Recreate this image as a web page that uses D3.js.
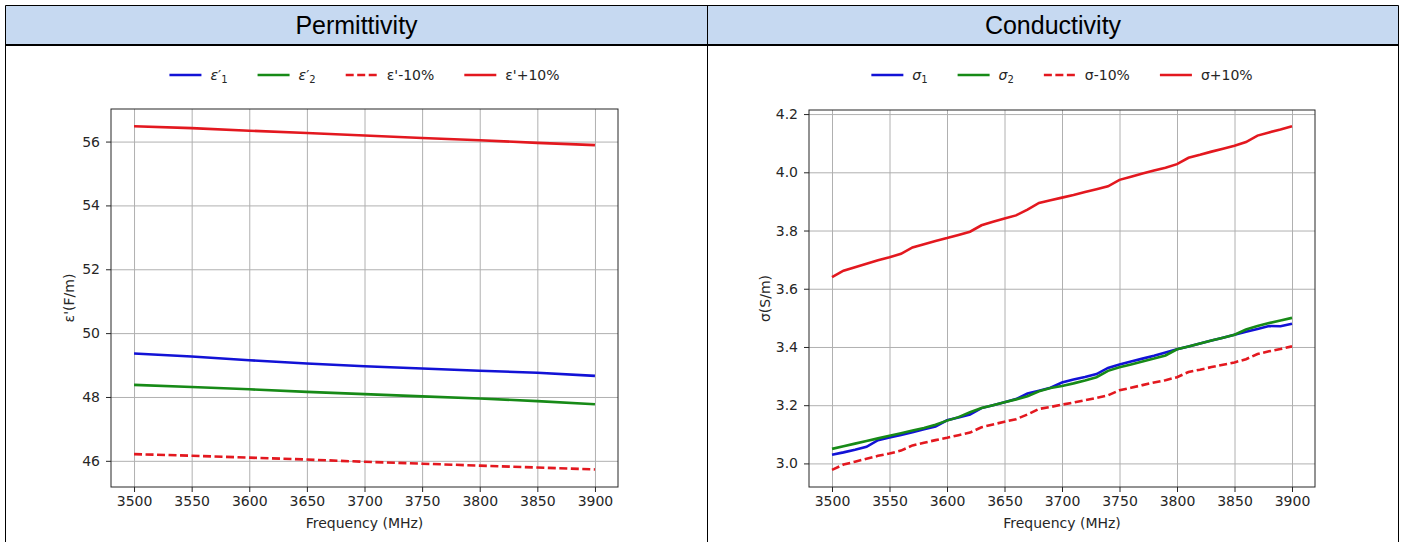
<!DOCTYPE html>
<html>
<head>
<meta charset="utf-8">
<script src="https://cdn.jsdelivr.net/npm/d3@7"></script>
<style>
  body { margin: 0; background: #fff; }
  .axis text { font-family: "DejaVu Sans", sans-serif; font-size: 14px; fill: #262626; }
  .axis path, .axis line { stroke: #262626; }
  .grid line { stroke: #b0b0b0; stroke-width: 1; }
  .grid path { display: none; }
  .label, .legend text { font-family: "DejaVu Sans", sans-serif; font-size: 14px; fill: #262626; }
  .header { font-family: "Liberation Sans", Arial, sans-serif; font-size: 25px; fill: #000; }
</style>
</head>
<body>
<div id="chart"></div>
<script>
// Permittivity, 50 MHz steps
const permFreq = [3500, 3550, 3600, 3650, 3700, 3750, 3800, 3850, 3900];
const eps1     = [49.36, 49.27, 49.15, 49.05, 48.96, 48.89, 48.82, 48.76, 48.66];
const eps2     = [48.38, 48.31, 48.24, 48.16, 48.09, 48.02, 47.95, 47.87, 47.77];
const epsMinus = [46.21, 46.16, 46.10, 46.04, 45.97, 45.91, 45.85, 45.79, 45.73];
const epsPlus  = [56.48, 56.42, 56.34, 56.27, 56.19, 56.11, 56.04, 55.96, 55.89];

// Conductivity, 10 MHz steps
const condFreq = [3500, 3510, 3520, 3530, 3540, 3550, 3560, 3570, 3580, 3590,
                  3600, 3610, 3620, 3630, 3640, 3650, 3660, 3670, 3680, 3690,
                  3700, 3710, 3720, 3730, 3740, 3750, 3760, 3770, 3780, 3790,
                  3800, 3810, 3820, 3830, 3840, 3850, 3860, 3870, 3880, 3890, 3900];
const sigma1 = [3.030, 3.038, 3.047, 3.057, 3.080, 3.089, 3.098, 3.107, 3.117, 3.127,
                3.148, 3.158, 3.168, 3.190, 3.200, 3.210, 3.221, 3.240, 3.250, 3.260,
                3.278, 3.288, 3.297, 3.307, 3.328, 3.340, 3.350, 3.360, 3.370, 3.381,
                3.392, 3.402, 3.412, 3.422, 3.432, 3.442, 3.452, 3.462, 3.472, 3.471, 3.480];
const sigma2 = [3.050, 3.059, 3.068, 3.077, 3.086, 3.095, 3.104, 3.113, 3.122, 3.133,
                3.147, 3.159, 3.176, 3.190, 3.200, 3.210, 3.220, 3.231, 3.248, 3.259,
                3.266, 3.275, 3.285, 3.296, 3.318, 3.330, 3.340, 3.350, 3.360, 3.371,
                3.392, 3.402, 3.412, 3.422, 3.432, 3.442, 3.460, 3.472, 3.482, 3.491, 3.500];
const sigmaMinus = [2.978, 2.996, 3.006, 3.016, 3.026, 3.034, 3.044, 3.062, 3.071, 3.080,
                    3.088, 3.097, 3.106, 3.124, 3.134, 3.143, 3.152, 3.168, 3.187, 3.194,
                    3.202, 3.209, 3.217, 3.225, 3.234, 3.251, 3.260, 3.269, 3.278, 3.286,
                    3.296, 3.314, 3.322, 3.331, 3.339, 3.347, 3.358, 3.376, 3.385, 3.393, 3.402];
const sigmaPlus = [3.640, 3.662, 3.674, 3.686, 3.698, 3.708, 3.720, 3.742, 3.753, 3.764,
                   3.774, 3.785, 3.796, 3.818, 3.830, 3.841, 3.852, 3.872, 3.895, 3.904,
                   3.913, 3.922, 3.932, 3.942, 3.952, 3.974, 3.985, 3.996, 4.006, 4.016,
                   4.028, 4.050, 4.060, 4.071, 4.081, 4.091, 4.104, 4.126, 4.137, 4.147, 4.158];

const xTicks = [3500, 3550, 3600, 3650, 3700, 3750, 3800, 3850, 3900];
const permTicks = [46, 48, 50, 52, 54, 56];
const condTicks = [3.0, 3.2, 3.4, 3.6, 3.8, 4.0, 4.2];

const BLUE = "#1212d6", GREEN = "#178a17", RED = "#e3181f";

const W = 1403, H = 542;
const svg = d3.select("#chart").append("svg")
  .attr("width", W).attr("height", H);

// table frame + header row
const tbl = { left: 5.5, mid: 707.5, right: 1398.5, top: 5.5, headBottom: 45 };
svg.append("rect")
  .attr("x", tbl.left).attr("y", tbl.top)
  .attr("width", tbl.right - tbl.left).attr("height", tbl.headBottom - tbl.top)
  .attr("fill", "#c6d9f1");
svg.append("line").attr("x1", tbl.left).attr("x2", tbl.right)
  .attr("y1", tbl.top).attr("y2", tbl.top).attr("stroke", "#000");
svg.append("line").attr("x1", tbl.left).attr("x2", tbl.right)
  .attr("y1", tbl.headBottom).attr("y2", tbl.headBottom).attr("stroke", "#000").attr("stroke-width", 2);
[tbl.left, tbl.mid, tbl.right].forEach(x => {
  svg.append("line").attr("x1", x).attr("x2", x)
    .attr("y1", tbl.top).attr("y2", H).attr("stroke", "#000");
});
svg.append("text").attr("class", "header")
  .attr("x", (tbl.left + tbl.mid) / 2).attr("y", 34).attr("text-anchor", "middle").text("Permittivity");
svg.append("text").attr("class", "header")
  .attr("x", (tbl.mid + tbl.right) / 2).attr("y", 34).attr("text-anchor", "middle").text("Conductivity");

function drawPanel(cfg) {
  const g = svg.append("g").attr("transform", `translate(${cfg.left},${cfg.top})`);
  const width = cfg.right - cfg.left, height = cfg.bottom - cfg.top;

  const x = d3.scaleLinear().domain([3480, 3920]).range([0, width]);
  const y = d3.scaleLinear().domain(cfg.yDomain).range([height, 0]);

  // grid
  g.append("g").attr("class", "grid")
    .attr("transform", `translate(0,${height})`)
    .call(d3.axisBottom(x).tickValues(xTicks).tickSize(-height).tickFormat(""));
  g.append("g").attr("class", "grid")
    .call(d3.axisLeft(y).tickValues(cfg.yTicks).tickSize(-width).tickFormat(""));

  // lines
  const line = d3.line().x(d => x(d[0])).y(d => y(d[1]));
  cfg.series.forEach(s => {
    g.append("path")
      .datum(cfg.freq.map((f, i) => [f, s.values[i]]))
      .attr("fill", "none")
      .attr("stroke", s.color)
      .attr("stroke-width", 2.6)
      .attr("stroke-dasharray", s.dashed ? "8,3.5" : null)
      .attr("d", line);
  });

  // axes
  g.append("g").attr("class", "axis")
    .attr("transform", `translate(0,${height})`)
    .call(d3.axisBottom(x).tickValues(xTicks).tickSize(5).tickPadding(4).tickFormat(d3.format("d")));
  g.append("g").attr("class", "axis")
    .call(d3.axisLeft(y).tickValues(cfg.yTicks).tickSize(5).tickPadding(6).tickFormat(cfg.yFormat));
  g.append("rect").attr("width", width).attr("height", height)
    .attr("fill", "none").attr("stroke", "#262626").attr("stroke-width", 1);
  g.selectAll(".axis .domain").remove();

  g.append("text").attr("class", "label")
    .attr("x", width / 2).attr("y", height + 41).attr("text-anchor", "middle")
    .text("Frequency (MHz)");
  g.append("text").attr("class", "label")
    .attr("transform", `translate(${cfg.yLabelX},${height / 2}) rotate(-90)`)
    .attr("text-anchor", "middle")
    .text(cfg.yLabel);

  // legend, centred above plot
  const lg = g.append("g").attr("class", "legend");
  let cx = 0;
  cfg.series.forEach(s => {
    const item = lg.append("g");
    item.append("line").attr("x1", 0).attr("x2", 32).attr("y1", 0).attr("y2", 0)
      .attr("stroke", s.color).attr("stroke-width", 2.6)
      .attr("stroke-dasharray", s.dashed ? "8,3.5" : null);
    const t = item.append("text").attr("x", 41).attr("y", 5);
    s.label.forEach(p => {
      const ts = t.append("tspan").text(p.t);
      if (p.italic) ts.attr("font-style", "italic");
      if (p.sub) ts.attr("font-size", "10px").attr("dy", 3);
    });
    const w = 41 + t.node().getComputedTextLength();
    item.attr("transform", `translate(${cx},0)`);
    cx += w + 30;
  });
  const total = cx - 30;
  lg.attr("transform", `translate(${width / 2 - total / 2},${cfg.legendY - cfg.top})`);
}

drawPanel({
  left: 111, right: 618, top: 109, bottom: 487,
  yDomain: [45.18, 57.02], yTicks: permTicks, yFormat: d3.format("d"),
  yLabel: "ε'(F/m)", yLabelX: -37, legendY: 75,
  freq: permFreq,
  series: [
    { values: eps1, color: BLUE, label: [{ t: "ε", italic: true }, { t: "′" }, { t: "1", sub: true }] },
    { values: eps2, color: GREEN, label: [{ t: "ε", italic: true }, { t: "′" }, { t: "2", sub: true }] },
    { values: epsMinus, color: RED, dashed: true, label: [{ t: "ε'-10%" }] },
    { values: epsPlus, color: RED, label: [{ t: "ε'+10%" }] }
  ]
});

drawPanel({
  left: 809, right: 1315, top: 110, bottom: 487,
  yDomain: [2.919, 4.214], yTicks: condTicks, yFormat: d3.format(".1f"),
  yLabel: "σ(S/m)", yLabelX: -39, legendY: 75,
  freq: condFreq,
  series: [
    { values: sigma1, color: BLUE, label: [{ t: "σ", italic: true }, { t: "1", sub: true }] },
    { values: sigma2, color: GREEN, label: [{ t: "σ", italic: true }, { t: "2", sub: true }] },
    { values: sigmaMinus, color: RED, dashed: true, label: [{ t: "σ-10%" }] },
    { values: sigmaPlus, color: RED, label: [{ t: "σ+10%" }] }
  ]
});
</script>
</body>
</html>
